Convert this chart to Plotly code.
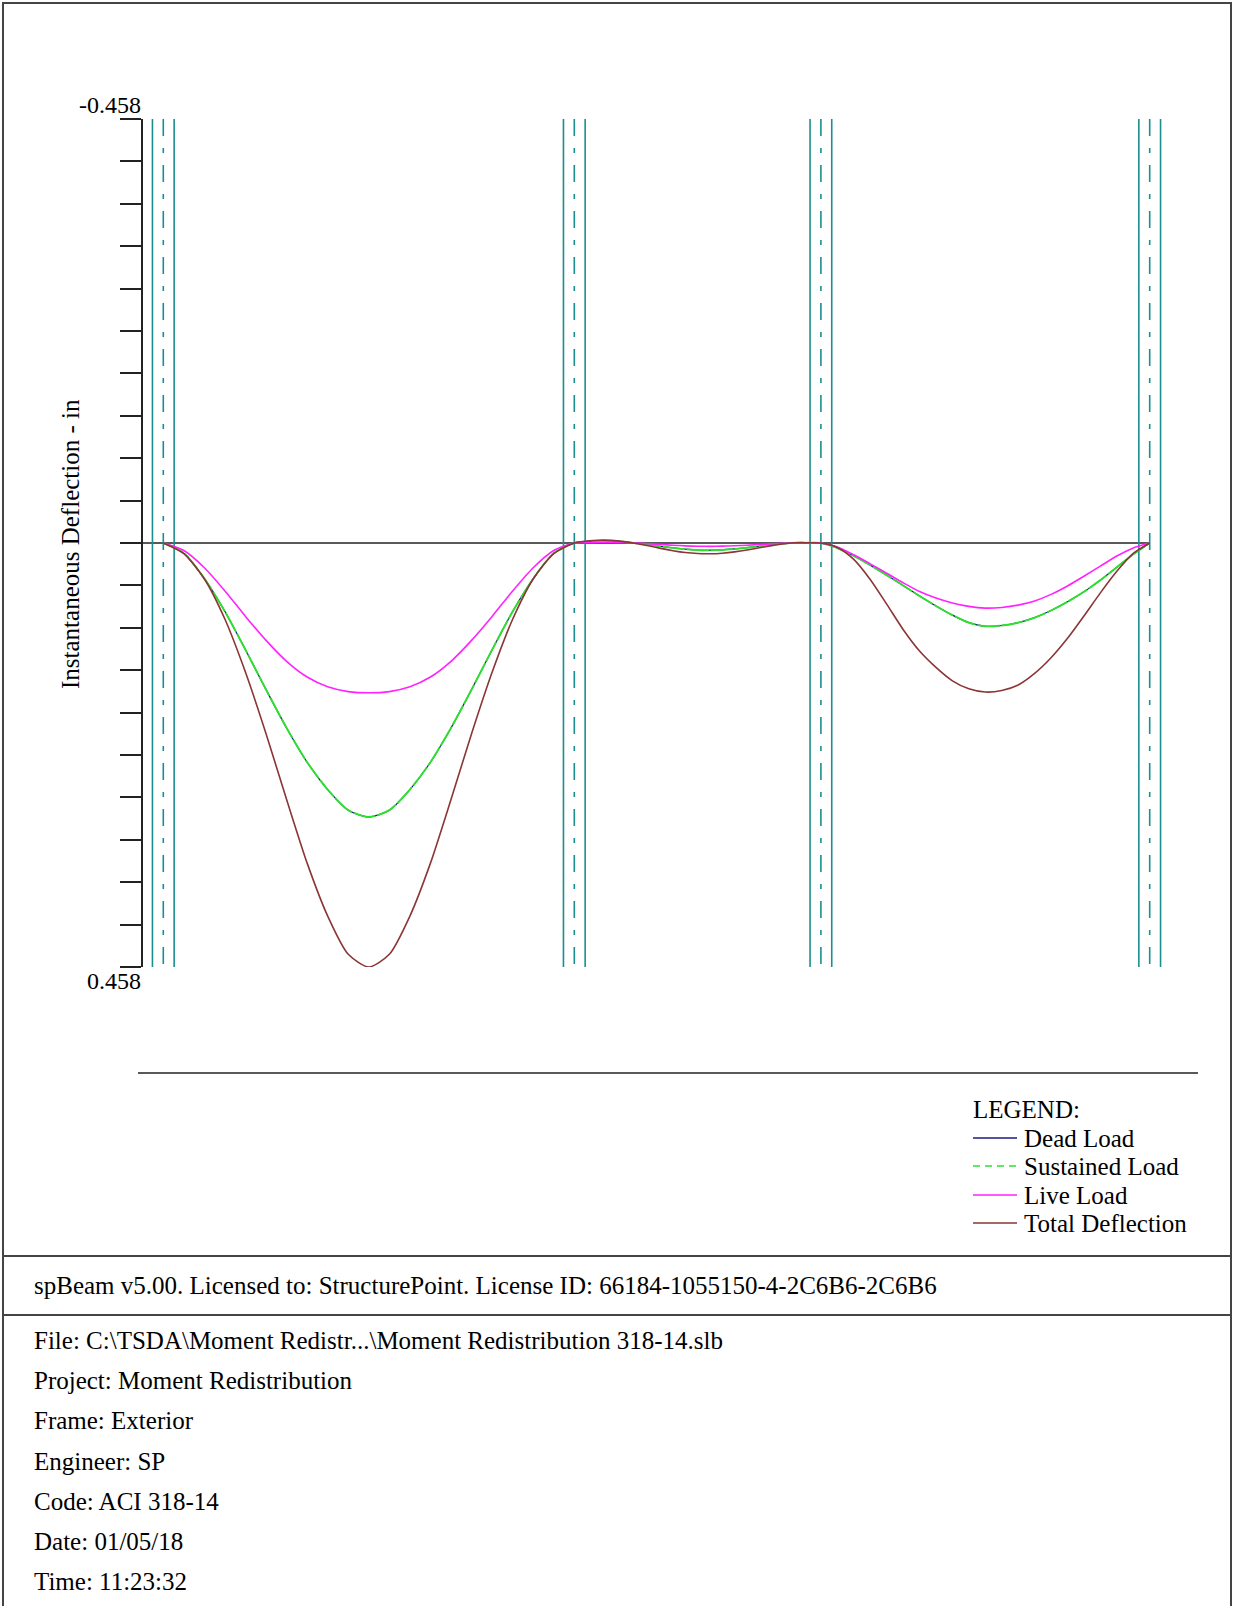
import plotly.graph_objects as go
import numpy as np

# ---------------- data ----------------
span1_x = [0, 1.25, 2.5, 3.75, 5, 6.25, 7.5, 8.75, 10, 11.25, 12.5, 13.75, 15, 16.25, 17.5,
           18.75, 20, 21.25, 22.5, 23.75, 25]
span2_x = [25.75, 26.5, 27.25, 28, 28.75, 29.5, 30.25, 31, 31.75, 32.5, 33.25, 34, 34.75,
           35.5, 36.25, 37, 37.75, 38.5, 39.25, 40]
span3_x = [41, 42, 43, 44, 45, 46, 47, 48, 49, 50, 51, 52, 53, 54, 55, 56, 57, 58, 59, 60]

dead_1 = [0, 0.0110, 0.0385, 0.0740, 0.1154, 0.1584, 0.1998, 0.2368, 0.2664, 0.2886, 0.2960,
          0.2886, 0.2664, 0.2368, 0.1998, 0.1584, 0.1154, 0.0740, 0.0385, 0.0110, 0]
dead_2 = [-0.0015, -0.0025, -0.0023, -0.0013, 0.0002, 0.0018, 0.0036, 0.0053, 0.0067, 0.0076,
          0.0078, 0.0074, 0.0064, 0.0051, 0.0035, 0.0019, 0.0006, -0.0002, -0.0002, 0]
dead_3 = [0.0054, 0.0140, 0.0239, 0.0347, 0.0459, 0.0572, 0.0680, 0.0779, 0.0860, 0.0900,
          0.0891, 0.0860, 0.0806, 0.0729, 0.0635, 0.0527, 0.0401, 0.0261, 0.0122, 0]

sust_1 = list(dead_1)
sust_2 = list(dead_2)
sust_3 = list(dead_3)

live_1 = [0, 0.0081, 0.0267, 0.0518, 0.0793, 0.1052, 0.1278, 0.1448, 0.1553, 0.1605, 0.1618,
          0.1605, 0.1553, 0.1448, 0.1278, 0.1052, 0.0793, 0.0518, 0.0267, 0.0081, 0]
live_2 = [-0.0005, -0.0008, -0.0008, -0.0005, 0.0, 0.0008, 0.0016, 0.0024, 0.0031, 0.0035,
          0.0036, 0.0034, 0.0030, 0.0024, 0.0017, 0.0009, 0.0003, 0.0, 0.0, 0]
live_3 = [0.0042, 0.0127, 0.0225, 0.0327, 0.0429, 0.0524, 0.0594, 0.0647, 0.0685, 0.0703,
          0.0696, 0.0671, 0.0626, 0.0555, 0.0464, 0.0359, 0.0250, 0.0141, 0.0053, 0]

total_1 = [0, 0.0115, 0.0389, 0.0824, 0.1397, 0.2061, 0.2771, 0.3458, 0.4030, 0.4443, 0.4580,
           0.4443, 0.4030, 0.3458, 0.2771, 0.2061, 0.1397, 0.0824, 0.0389, 0.0115, 0]
total_2 = [-0.0020, -0.0030, -0.0028, -0.0015, 0.0005, 0.0030, 0.0058, 0.0083, 0.0103, 0.0114,
           0.0116, 0.0110, 0.0096, 0.0076, 0.0052, 0.0028, 0.0008, -0.0003, -0.0003, 0]
total_3 = [0.0048, 0.0177, 0.0394, 0.0660, 0.0934, 0.1167, 0.1344, 0.1489, 0.1575, 0.1610,
           0.1594, 0.1534, 0.1409, 0.1240, 0.1030, 0.0789, 0.0539, 0.0306, 0.0113, 0]

supports = [0, 25, 40, 60]
col_half = 0.66
y_limit = 0.458
tick_labels = ["-0.458", "0.458"]

series_names = ["Dead Load", "Sustained Load", "Live Load", "Total Deflection"]

footer_lines = [
    "File: C:\\TSDA\\Moment Redistr...\\Moment Redistribution 318-14.slb",
    "Project: Moment Redistribution",
    "Frame: Exterior",
    "Engineer: SP",
    "Code: ACI 318-14",
    "Date: 01/05/18",
    "Time: 11:23:32",
]
license_line = "spBeam v5.00. Licensed to: StructurePoint. License ID: 66184-1055150-4-2C6B6-2C6B6"

# ---------------- layout geometry (pixels) ----------------
W, H = 1233, 1606
L, R, T, B = 143, 33, 119, 639
PW, PH = W - L - R, H - T - B
x0_px, px_per_ft = 163.3, 16.44
x_range = [(L - x0_px) / px_per_ft, (W - R - x0_px) / px_per_ft]

def px(xp):
    return (xp - L) / PW

def py(yp):
    return 1 - (yp - T) / PH

FONT = "Liberation Serif, Times New Roman, serif"
TEAL = "#1b8f8f"
C_DEAD, C_SUST, C_LIVE, C_TOT = "#1a1a80", "#2ee02e", "#ff22ff", "#8b3535"

xs = span1_x + span2_x + span3_x
dead = dead_1 + dead_2 + dead_3
sust = sust_1 + sust_2 + sust_3
live = live_1 + live_2 + live_3
total = total_1 + total_2 + total_3

fig = go.Figure()

# zero reference line
fig.add_trace(go.Scatter(x=[x_range[0], supports[-1]], y=[0, 0], mode="lines",
                         line=dict(color="#222222", width=1.5), hoverinfo="skip", showlegend=False))

# support (column) lines
for s in supports:
    for off in (-col_half, col_half):
        fig.add_trace(go.Scatter(x=[s + off, s + off], y=[-y_limit, y_limit], mode="lines",
                                 line=dict(color=TEAL, width=1.6), hoverinfo="skip", showlegend=False))
    fig.add_trace(go.Scatter(x=[s, s], y=[-y_limit, y_limit], mode="lines",
                             line=dict(color=TEAL, width=1.6, dash="17px,12px,5px,12px"),
                             hoverinfo="skip", showlegend=False))

curve_specs = [
    (dead, C_DEAD, "solid", 1.2),
    (sust, C_SUST, "22px,2px", 1.9),
    (live, C_LIVE, "solid", 1.6),
    (total, C_TOT, "solid", 1.6),
]
for (vals, col, dash, wd), name in zip(curve_specs, series_names):
    fig.add_trace(go.Scatter(x=xs, y=vals, mode="lines", name=name,
                             line=dict(color=col, width=wd, dash=dash, shape="spline", smoothing=0.7),
                             showlegend=False))

shapes = []
annotations = []

# outer border and separators
shapes.append(dict(type="rect", xref="paper", yref="paper", x0=px(3), x1=px(1231), y0=py(1616), y1=py(3),
                   line=dict(color="#444444", width=2)))
for yy in (1256, 1315):
    shapes.append(dict(type="line", xref="paper", yref="paper", x0=px(3), x1=px(1231), y0=py(yy), y1=py(yy),
                       line=dict(color="#444444", width=2)))
# horizontal rule under plot
shapes.append(dict(type="line", xref="paper", yref="paper", x0=px(138), x1=px(1198), y0=py(1073), y1=py(1073),
                   line=dict(color="#222222", width=1.5)))

# tick labels
annotations.append(dict(x=px(143), y=py(105), xref="paper", yref="paper", text=tick_labels[0],
                        showarrow=False, xanchor="right", yanchor="middle",
                        font=dict(family=FONT, size=24, color="black")))
annotations.append(dict(x=px(143), y=py(981), xref="paper", yref="paper", text=tick_labels[1],
                        showarrow=False, xanchor="right", yanchor="middle",
                        font=dict(family=FONT, size=24, color="black")))
# y axis title
annotations.append(dict(x=px(70), y=py(544), xref="paper", yref="paper", text="Instantaneous Deflection - in",
                        showarrow=False, textangle=-90, xanchor="center", yanchor="middle",
                        font=dict(family=FONT, size=25, color="black")))

# legend
annotations.append(dict(x=px(971), y=py(1109), xref="paper", yref="paper", text="LEGEND:",
                        showarrow=False, xanchor="left", yanchor="middle",
                        font=dict(family=FONT, size=25, color="black")))
leg_y = [1138, 1166, 1195, 1223]
leg_solid = [True, False, True, True]
for name, (vals, col, dash, wd), yy, solid in zip(series_names, curve_specs, leg_y, leg_solid):
    shapes.append(dict(type="line", xref="paper", yref="paper", x0=px(973), x1=px(1017), y0=py(yy), y1=py(yy),
                       line=dict(color=col, width=1.6, dash="solid" if solid else "7px,5px")))
    annotations.append(dict(x=px(1022), y=py(yy), xref="paper", yref="paper", text=name,
                            showarrow=False, xanchor="left", yanchor="middle",
                            font=dict(family=FONT, size=25, color="black")))

# license + footer
annotations.append(dict(x=px(32), y=py(1285), xref="paper", yref="paper", text=license_line,
                        showarrow=False, xanchor="left", yanchor="middle",
                        font=dict(family=FONT, size=25, color="black")))
footer_y = [1340, 1380, 1420, 1461, 1501, 1541, 1581]
for t, yy in zip(footer_lines, footer_y):
    annotations.append(dict(x=px(32), y=py(yy), xref="paper", yref="paper", text=t,
                            showarrow=False, xanchor="left", yanchor="middle",
                            font=dict(family=FONT, size=25, color="black")))

fig.update_layout(
    width=W, height=H,
    margin=dict(l=L, r=R, t=T, b=B, pad=0),
    paper_bgcolor="white", plot_bgcolor="white",
    showlegend=False,
    shapes=shapes, annotations=annotations,
    xaxis=dict(range=x_range, visible=False, showgrid=False, zeroline=False),
    yaxis=dict(range=[y_limit, -y_limit], showgrid=False, zeroline=False,
               showline=True, linecolor="#222222", linewidth=2,
               ticks="outside", ticklen=21, tickwidth=1.5, tickcolor="#222222",
               tickvals=list(np.linspace(-y_limit, y_limit, 21)), showticklabels=False),
)

fig.write_html("out.html")
